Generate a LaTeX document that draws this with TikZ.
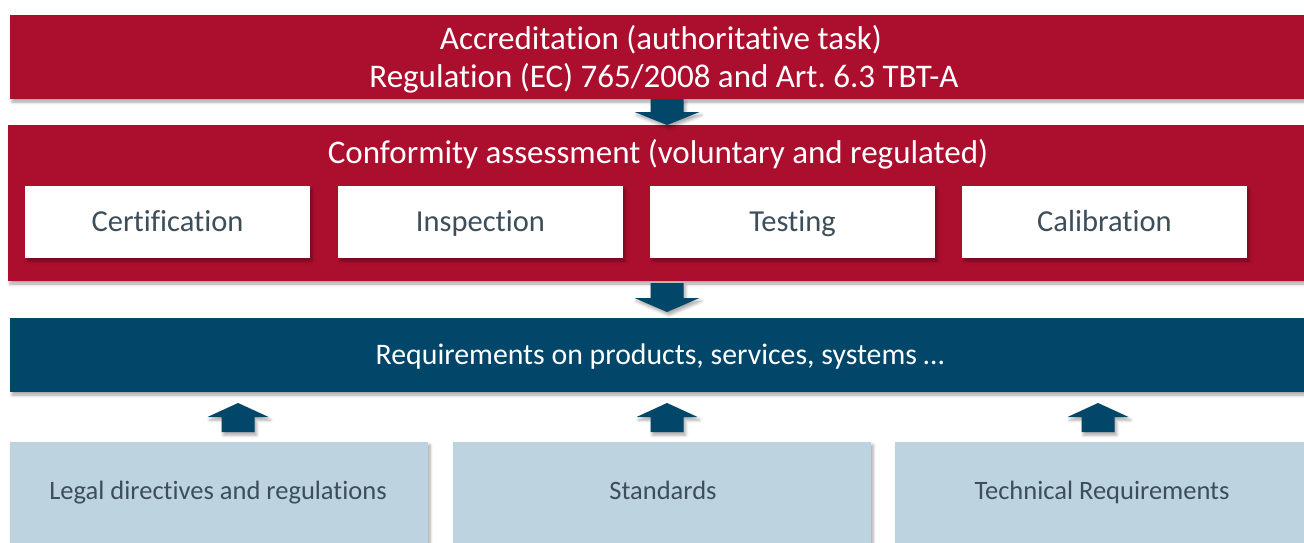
\documentclass[tikz,border=0pt]{standalone}
\usepackage{fontspec}
\setmainfont{Carlito}[Ligatures=NoCommon]
\usetikzlibrary{shadows.blur}
\definecolor{crimson}{HTML}{AC0F2E}
\definecolor{navy}{HTML}{02466A}
\definecolor{paleblue}{HTML}{BDD3DF}
\definecolor{slate}{HTML}{3C4E5A}
\begin{document}
\begin{tikzpicture}[x=1pt,y=-1pt,
  softshadow/.style={blur shadow={shadow xshift=2pt,shadow yshift=-3pt,shadow blur radius=3pt,shadow opacity=35}},
  band/.style={rectangle,inner sep=0pt,outer sep=0pt,anchor=north west,softshadow},
  redband/.style={band,fill=crimson},
  navyband/.style={band,fill=navy},
  whitebox/.style={band,fill=white,minimum width=285,minimum height=72},
  palebox/.style={band,fill=paleblue,minimum width=418,minimum height=130},
  blockarrow/.style={fill=navy,softshadow},
  label/.style={inner sep=0pt,anchor=base},
  bigtext/.style={label,text=white,font=\fontsize{33}{39}\selectfont},
  boxtext/.style={label,text=slate,font=\fontsize{30.5}{36}\selectfont},
  reqtext/.style={label,text=white,font=\fontsize{29.8}{35}\selectfont},
  basetext/.style={label,text=slate,font=\fontsize{26.5}{31}\selectfont}]
\useasboundingbox (0,0) rectangle (1304,543);

% accreditation band
\node[redband,minimum width=1300,minimum height=84] (acc) at (10,15) {};
\node[bigtext] (acctop) at (661,50) {Accreditation (authoritative task)};
\node[bigtext] (accbottom) at (664,88) {Regulation (EC) 765/2008 and Art.~6.3 TBT-A};

% conformity assessment band with its four activities
\node[redband,minimum width=1302,minimum height=156] (conf) at (8,125) {};
\node[bigtext] (conftext) at (658,163) {Conformity assessment (voluntary and regulated)};
\node[whitebox] (cert) at (25,186) {};
\node[whitebox] (insp) at (338,186) {};
\node[whitebox] (test) at (650,186) {};
\node[whitebox] (cali) at (962,186) {};
\node[boxtext] at ([yshift=-9]cert.center) {Certification};
\node[boxtext] at ([yshift=-9]insp.center) {Inspection};
\node[boxtext] at ([yshift=-9]test.center) {Testing};
\node[boxtext] at ([yshift=-9]cali.center) {Calibration};

% requirements band
\node[navyband,minimum width=1300,minimum height=74] (req) at (10,318) {};
\node[reqtext] (reqtext) at (660,364) {Requirements on products, services, systems \dots};

% sources of requirements
\node[palebox] (legal) at (10,442) {};
\node[palebox] (std) at (453,442) {};
\node[palebox] (tech) at (895,442) {};
\node[basetext] at (218,499) {Legal directives and regulations};
\node[basetext] at (663,499) {Standards};
\node[basetext] at (1102,499) {Technical Requirements};

% downward block arrows
\fill[blockarrow,shift={(667,99)}] (-16.5,0) -- (16.5,0) -- (16.5,13) -- (32.5,13) -- (0,26) -- (-32.5,13) -- (-16.5,13) -- cycle;
\fill[blockarrow,shift={(667,283)}] (-16.5,0) -- (16.5,0) -- (16.5,15) -- (32.5,15) -- (0,29) -- (-32.5,15) -- (-16.5,15) -- cycle;

% upward block arrows
\foreach \cx in {238,667,1098}{
  \fill[blockarrow,shift={(\cx,432)}] (-16.5,0) -- (16.5,0) -- (16.5,-15) -- (30.5,-15) -- (0,-29) -- (-30.5,-15) -- (-16.5,-15) -- cycle;
}
\end{tikzpicture}
\end{document}
